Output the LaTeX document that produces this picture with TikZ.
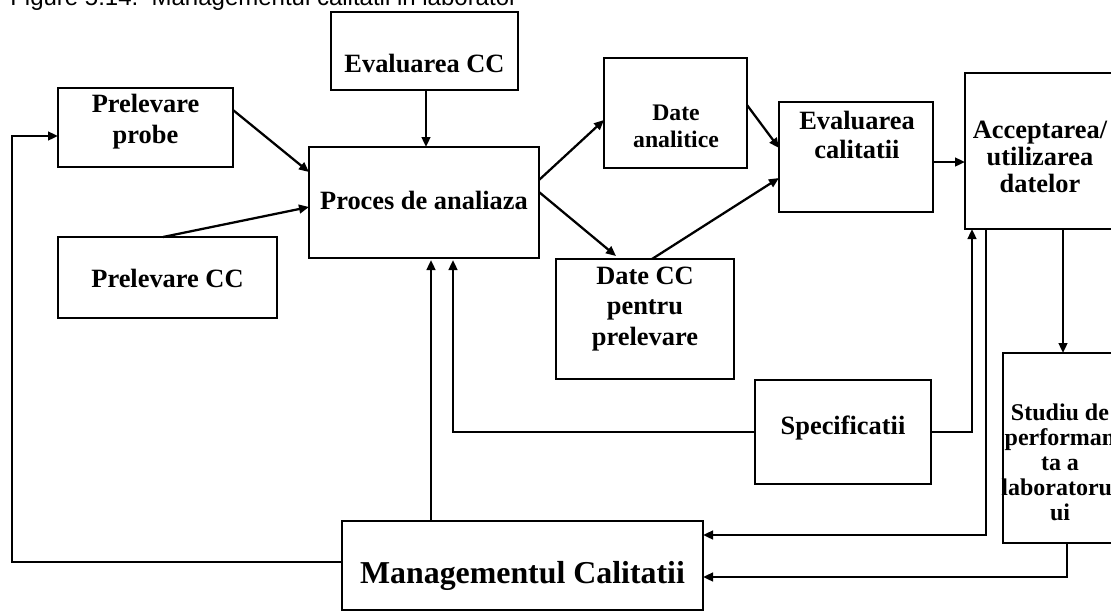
\documentclass[tikz,border=0pt]{standalone}
\usepackage{fontspec}
\setmainfont{Liberation Serif}
\newfontfamily\capfont{Liberation Sans}
\usetikzlibrary{arrows.meta}

\begin{document}
\begin{tikzpicture}[x=0.75pt,y=-0.75pt,
  box/.style 2 args={draw, line width=1.8pt, inner sep=0pt, outer sep=0pt,
    minimum width=#1*0.75pt, minimum height=#2*0.75pt},
  txt/.style={inner sep=0pt, align=center, font=\bfseries\fontsize{19.8}{23}\selectfont},
  arr/.style={line width=1.7pt, -{Triangle[length=7.5pt,width=6.5pt]}},
  ln/.style={line width=1.7pt}]
\useasboundingbox (0,0) rectangle (1111,612);
\clip (0,0) rectangle (1111,612);

% caption line
\node[anchor=base west, inner sep=0pt, font=\capfont\fontsize{18}{18}\selectfont] (title) at (10,5)
  {Figure 5.14.\ \ Managementul calitatii in laborator};

% boxes
\node[box={187}{78}]  (evcc)   at (424.5,51) {};
\node[box={230}{111}] (proces) at (424,202.5) {};
\node[box={175}{79}]  (prob)   at (145.5,127.5) {};
\node[box={219}{81}]  (prcc)   at (167.5,277.5) {};
\node[box={143}{110}] (datean) at (675.5,113) {};
\node[box={154}{110}] (evcal)  at (856,157) {};
\node[box={150}{156}] (acc)    at (1040,151) {};
\node[box={178}{120}] (datecc) at (645,319) {};
\node[box={176}{104}] (spec)   at (843,432) {};
\node[box={114}{190}] (stud)   at (1060,448) {};
\node[box={361}{89}]  (mgmt)   at (522.5,565.5) {};

% labels
\node[txt] (evcc-t)   at (424.5,63) {Evaluarea CC};
\node[txt] (proces-t) at (424,200) {Proces de analiaza};
\node[txt, font=\bfseries\fontsize{19.8}{23.3}\selectfont] (prob-t) at (145.5,122) {Prelevare\\probe};
\node[txt] (prcc-t)   at (167.5,278) {Prelevare CC};
\node[txt, font=\bfseries\fontsize{17.8}{20.3}\selectfont] (datean-t) at (676,126) {Date\\analitice};
\node[txt, font=\bfseries\fontsize{19.8}{21.8}\selectfont] (evcal-t) at (857,135) {Evaluarea\\calitatii};
\node[txt, font=\bfseries\fontsize{19.8}{20.3}\selectfont] (acc-t) at (1040,157) {Acceptarea/\\utilizarea\\datelor};
\node[txt] (datecc-t) at (645,309) {Date CC\\pentru\\prelevare};
\node[txt] (spec-t)   at (843,428) {Specificatii};
\node[txt, font=\bfseries\fontsize{18}{18.8}\selectfont] (stud-t) at (1060,462) {Studiu de\\performan\\ta a\\laboratorul\\ui};
\node[txt, font=\bfseries\fontsize{23.9}{26}\selectfont] (mgmt-t) at (522.5,576) {Managementul Calitatii};

% connectors
\draw[arr] (evcc.south -| 426,0) -- (proces.north -| 426,0);
\draw[arr] (prob.east |- 0,110) -- (proces.west |- 0,172);
\draw[arr] (prcc.north -| 163,0) -- (proces.west |- 0,207);
\draw[arr] (proces.east |- 0,180) -- (datean.west |- 0,120);
\draw[arr] (proces.east |- 0,192) -- (616,256);
\draw[arr] (datean.east |- 0,105) -- (evcal.west |- 0,148);
\draw[arr] (datecc.north -| 652,0) -- (evcal.west |- 0,178);
\draw[arr] (evcal.east |- 0,162) -- (acc.west |- 0,162);
\draw[arr] (acc.south -| 1063,0) -- (stud.north -| 1063,0);
\draw[arr] (spec.east) -| (acc.south -| 972,0);
\draw[arr] (acc.south -| 986,0) |- (mgmt.east |- 0,535);
\draw[arr] (stud.south -| 1067,0) |- (mgmt.east |- 0,577);
\draw[arr] (mgmt.north -| 431,0) -- (431,260);
\draw[arr] (spec.west) -| (453,260);
\coordinate (lbend) at (12,136);
\draw[arr] (mgmt.west |- 0,562) -| (lbend) -- (prob.west |- lbend);
\end{tikzpicture}
\end{document}
